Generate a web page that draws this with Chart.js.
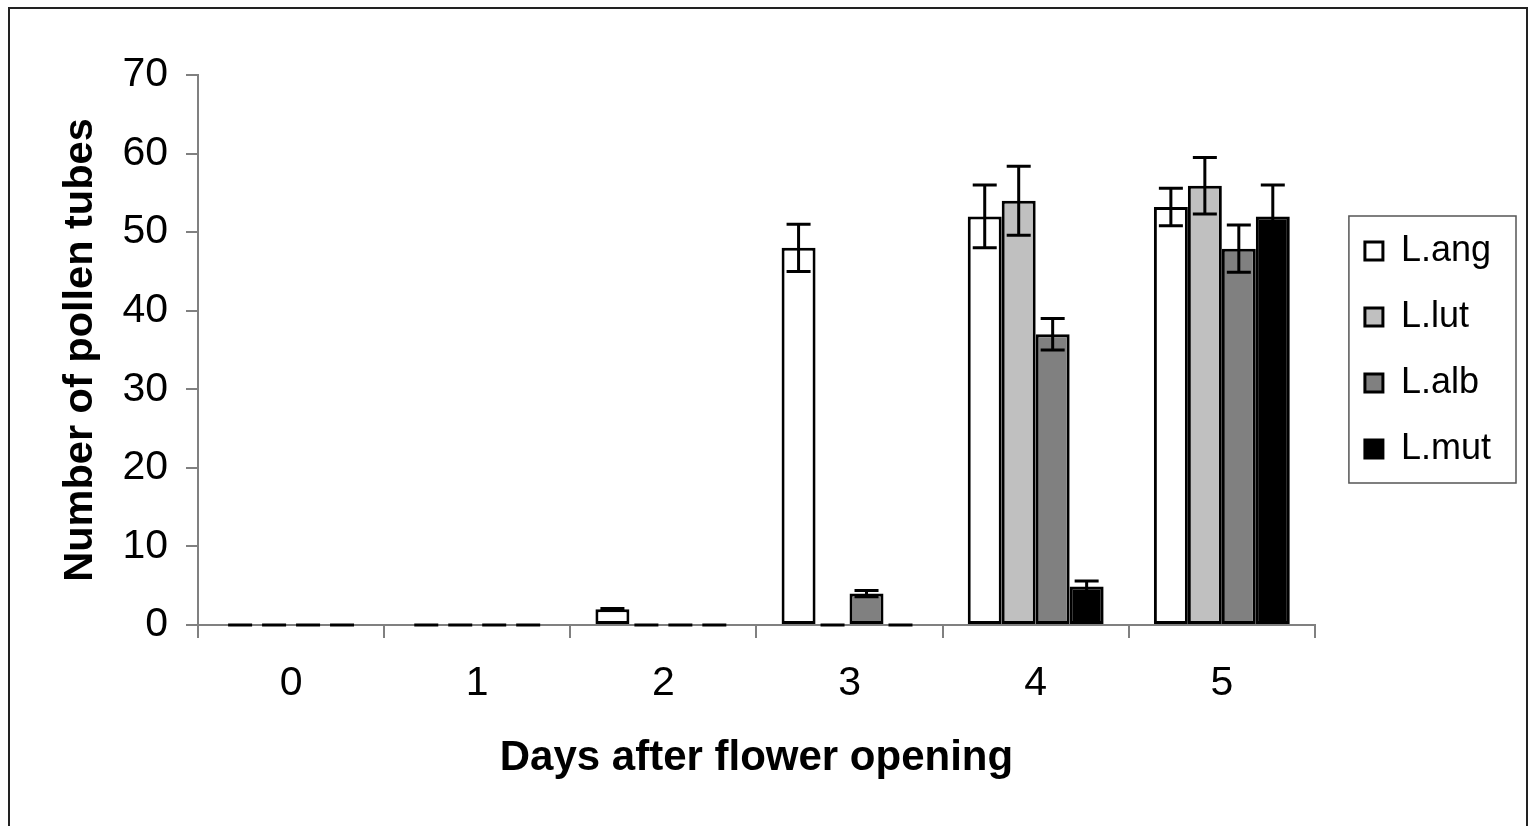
<!DOCTYPE html>
<html>
<head>
<meta charset="utf-8">
<script src="https://cdn.jsdelivr.net/npm/chart.js@4.4.1/dist/chart.umd.min.js"></script>
<style>
    html, body { margin: 0; padding: 0; background: #fff; }
    #wrap { width: 1534px; height: 826px; }
</style>
</head>
<body>
<div id="wrap"><canvas id="myChart" width="1534" height="826"></canvas></div>
<script>
// days after flower opening
const days = ['0', '1', '2', '3', '4', '5'];
const yTicks = [0, 10, 20, 30, 40, 50, 60, 70];

// mean number of pollen tubes and error (+/-) per species
const lAng = [0, 0, 2, 48, 52, 53.2];
const lAngErr = [0, 0, 0.1, 3, 4, 2.4];
const lLut = [0, 0, 0, 0, 54, 55.9];
const lLutErr = [0, 0, 0, 0, 4.4, 3.6];
const lAlb = [0, 0, 0, 4, 37, 47.9];
const lAlbErr = [0, 0, 0, 0.4, 2, 3];
const lMut = [0, 0, 0, 0, 4.9, 52];
const lMutErr = [0, 0, 0, 0, 0.7, 4];

const FONT = "'Liberation Sans', Arial, sans-serif";

// error bars with caps, drawn on top of the bars
const errorBars = {
    id: 'errorBars',
    afterDatasetsDraw(chart) {
        const ctx = chart.ctx;
        const y = chart.scales.y;
        ctx.save();
        ctx.strokeStyle = '#000';
        ctx.lineWidth = 3;
        chart.data.datasets.forEach((ds, i) => {
            const meta = chart.getDatasetMeta(i);
            meta.data.forEach((bar, j) => {
                const v = ds.data[j], e = ds.errors[j];
                const yTop = y.getPixelForValue(v + e);
                const yBot = y.getPixelForValue(Math.max(0, v - e));
                const cap = 12;
                ctx.beginPath();
                ctx.moveTo(bar.x, yTop); ctx.lineTo(bar.x, yBot);
                ctx.moveTo(bar.x - cap, yTop); ctx.lineTo(bar.x + cap, yTop);
                ctx.moveTo(bar.x - cap, yBot); ctx.lineTo(bar.x + cap, yBot);
                ctx.stroke();
            });
        });
        ctx.restore();
    }
};

// outer frame + box round the legend
const frames = {
    id: 'frames',
    afterDraw(chart) {
        const ctx = chart.ctx;
        ctx.save();
        ctx.strokeStyle = '#222';
        ctx.lineWidth = 2;
        ctx.strokeRect(9, 8, 1518, 840);

        const boxes = chart.legend.legendHitBoxes;
        if (boxes && boxes.length) {
            const first = boxes[0], last = boxes[boxes.length - 1];
            let right = 0;
            boxes.forEach(b => { right = Math.max(right, b.left + b.width); });
            const x0 = first.left - 16;
            const y0 = first.top + first.height / 2 - 35;
            const y1 = last.top + last.height / 2 + 34;
            ctx.strokeStyle = '#555';
            ctx.lineWidth = 1.5;
            ctx.strokeRect(x0, y0, right + 25 - x0, y1 - y0);
        }
        ctx.restore();
    }
};

function makeSet(label, data, errors, color) {
    return {
        label: label,
        data: data,
        errors: errors,
        backgroundColor: color,
        borderColor: '#000',
        borderWidth: 3,
        borderSkipped: false,
        categoryPercentage: 0.73,
        barPercentage: 1.0,
    };
}

const myChart = new Chart(document.getElementById('myChart').getContext('2d'), {
    type: 'bar',
    data: {
        labels: days,
        datasets: [
            makeSet('L.ang', lAng, lAngErr, '#FFFFFF'),
            makeSet('L.lut', lLut, lLutErr, '#C0C0C0'),
            makeSet('L.alb', lAlb, lAlbErr, '#808080'),
            makeSet('L.mut', lMut, lMutErr, '#000000'),
        ]
    },
    options: {
        responsive: false,
        animation: false,
        devicePixelRatio: 1,
        layout: { padding: { left: 12, top: 75, right: 33, bottom: 0 } },
        plugins: {
            tooltip: { enabled: false },
            legend: {
                position: 'right',
                align: 'center',
                fullSize: false,
                labels: {
                    color: '#000',
                    font: { family: FONT, size: 36 },
                    boxWidth: 18,
                    boxHeight: 18,
                    padding: 30,
                }
            }
        },
        scales: {
            x: {
                grid: { display: true, drawOnChartArea: false, offset: true, tickLength: 13, color: '#808080', lineWidth: 2 },
                border: { color: '#808080', width: 2 },
                ticks: { color: '#000', font: { family: FONT, size: 41 }, padding: 21, maxRotation: 0 },
                title: {
                    display: true,
                    text: 'Days after flower opening',
                    color: '#000',
                    font: { family: FONT, size: 42, weight: 'bold' },
                    padding: { top: 0, bottom: 42 }
                },
                afterFit: scale => { scale.height = 201; }
            },
            y: {
                min: 0,
                max: 70,
                afterBuildTicks: scale => { scale.ticks = yTicks.map(v => ({ value: v })); },
                grid: { display: true, drawOnChartArea: false, tickLength: 12, color: '#808080', lineWidth: 2 },
                border: { color: '#808080', width: 2 },
                ticks: { color: '#000', font: { family: FONT, size: 41 }, padding: 18 },
                title: {
                    display: true,
                    text: 'Number of pollen tubes',
                    color: '#000',
                    font: { family: FONT, size: 41.5, weight: 'bold' },
                    padding: { top: 44, bottom: 0 }
                },
                afterFit: scale => { scale.width = 186; }
            },
            gap: {
                type: 'linear',
                position: 'right',
                display: true,
                grid: { display: false },
                border: { display: false },
                ticks: { display: false },
                afterFit: scale => { scale.width = 20; }
            }
        }
    },
    plugins: [errorBars, frames]
});
</script>
</body>
</html>
